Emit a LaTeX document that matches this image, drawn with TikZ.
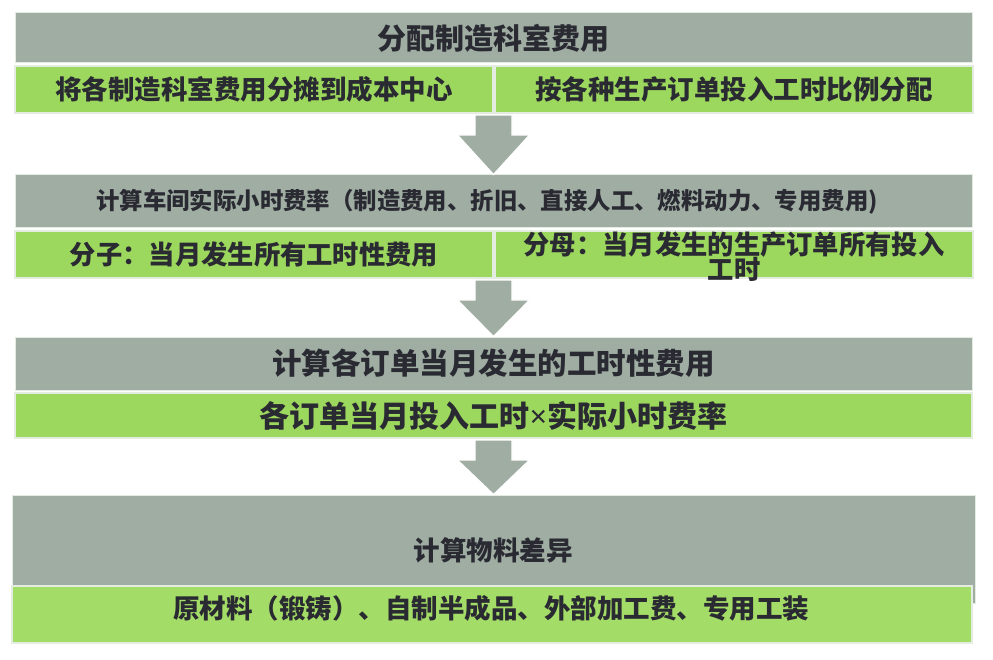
\documentclass[tikz,border=0pt]{standalone}
\usepackage{fontspec}
\setmainfont{Noto Sans CJK SC}
\newfontfamily\latinf{Noto Sans}
\usetikzlibrary{calc}
\definecolor{boxgray}{HTML}{9FADA3}
\definecolor{boxgreen}{HTML}{9DD85E}
\definecolor{boxgreenb}{HTML}{A3DC66}
\definecolor{rim}{HTML}{E4EBE1}
\definecolor{txt}{HTML}{2A2A32}
\tikzset{
  graybox/.style={fill=boxgray, draw=rim, line width=1pt, inner sep=0pt, text=txt, font=\bfseries},
  greenbox/.style={fill=boxgreen, draw=rim, line width=2pt, inner sep=0pt, text=txt, font=\bfseries},
  label/.style={inner sep=0pt, text=txt, font=\bfseries, align=center},
  blockarrow/.style={fill=boxgray, draw=white, line width=1.2pt, line join=miter}
}
\begin{document}
\begin{tikzpicture}[x=1pt,y=-1pt]
\useasboundingbox (0,0) rectangle (993,660);
% step 1
\node[graybox, minimum width=957pt, minimum height=50pt] (b1) at (493.5,38) {\fontsize{29}{32}\selectfont 分配制造科室费用};
\node[greenbox, minimum width=478pt, minimum height=47pt] (g1l) at (254,89.5) {\fontsize{26.5}{30}\selectfont 将各制造科室费用分摊到成本中心};
\node[greenbox, minimum width=478pt, minimum height=47pt] (g1r) at (734,89.5) {\fontsize{26.5}{30}\selectfont 按各种生产订单投入工时比例分配};
% step 2
\node[graybox, minimum width=957pt, minimum height=53pt] (b2) at (493.5,201.5) {};
\node[label] (b2t) at (487,202) {\fontsize{23.4}{26}\selectfont 计算车间实际小时费率（制造费用、折旧、直接人工、燃料动力、专用费用)};
\node[greenbox, minimum width=478pt, minimum height=47pt] (g2l) at (254,254.5) {\fontsize{26.3}{30}\selectfont 分子：当月发生所有工时性费用};
\node[greenbox, minimum width=478pt, minimum height=47pt] (g2r) at (734,254.5) {};
\node[label] (g2rt) at (734,257) {\fontsize{26.3}{28}\selectfont 分母：当月发生的生产订单所有投入\\[-1pt]\fontsize{26.3}{28}\selectfont 工时};
% step 3
\node[graybox, minimum width=957pt, minimum height=53pt] (b3) at (493.5,363.5) {\fontsize{29.5}{32}\selectfont 计算各订单当月发生的工时性费用};
\node[greenbox, minimum width=957pt, minimum height=45pt] (g3) at (493.5,415.5) {\fontsize{30}{32}\selectfont 各订单当月投入工时{\latinf\bfseries ×}实际小时费率};
% step 4
\node[graybox, minimum width=963pt, minimum height=108pt] (b4) at (493.5,549) {};
\node[label] (b4t) at (493,550) {\fontsize{26.5}{30}\selectfont 计算物料差异};
\node[greenbox, fill=boxgreenb, minimum width=960pt, minimum height=57pt] (g4) at (492,614.5) {};
\node[label] (g4t) at (491,608) {\fontsize{26.5}{30}\selectfont 原材料（锻铸）、自制半成品、外部加工费、专用工装};
% arrows
\foreach \top/\bot/\nxt in {b1/g1l/b2, b2/g2l/b3, b3/g3/b4}{
  \path[blockarrow] let \p1=(\top.south), \p2=(\bot.south), \p3=(\nxt.north) in
    (\x1-18.5pt,\y2-1pt) -- (\x1+18.5pt,\y2-1pt) -- (\x1+18.5pt,\y2-21pt) -- (\x1+36pt,\y2-21pt)
    -- (\x1,\y3) -- (\x1-36pt,\y2-21pt) -- (\x1-18.5pt,\y2-21pt) -- cycle;
}
\end{tikzpicture}
\end{document}
